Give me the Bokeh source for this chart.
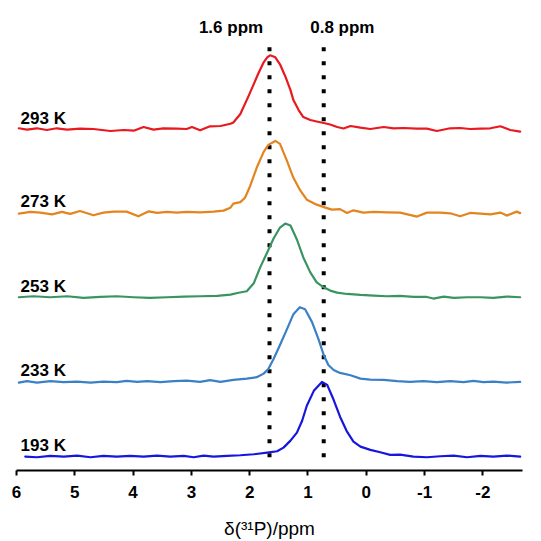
from bokeh.plotting import figure
from bokeh.models import Range1d, FixedTicker, ColumnDataSource
from bokeh.embed import file_html
from bokeh.resources import INLINE
from bokeh.core.properties import value

FONT = "Liberation Sans"

# ---- data (chemical shift in ppm, intensity in arbitrary units) ----
temps = ["293 K", "273 K", "253 K", "233 K", "193 K"]
colors = ["#e8191f", "#e3841f", "#3a9462", "#3a80c6", "#1616de"]
offsets = [329, 245, 160, 75, 0]

x293 = [5.96, 5.82, 5.65, 5.48, 5.31, 5.13, 4.91, 4.68, 4.39, 4.16, 3.99, 3.82, 3.65, 3.48, 3.25,
        3.08, 2.99, 2.85, 2.68, 2.50, 2.33, 2.28, 2.16, 2.02, 1.93, 1.85, 1.76, 1.70, 1.65, 1.56,
        1.48, 1.39, 1.30, 1.25, 1.16, 1.08, 0.96, 0.85, 0.73, 0.62, 0.50, 0.39, 0.27, 0.10, -0.07,
        -0.30, -0.47, -0.64, -0.87, -1.04, -1.21, -1.44, -1.61, -1.78, -1.96, -2.13, -2.30, -2.47, -2.64]
y293 = [0.7, -0.7, 0.7, -1.0, 0.7, -0.7, 0.3, 0, -2.0, -1.0, -1.7, 2.0, -0.7, 0.7, 0.3,
        0, 2.0, -1.3, 2.7, 3.0, 5.3, 6.5, 15, 33, 45, 56, 67, 72, 74, 72,
        65, 53, 39, 29, 19, 12, 9, 7.5, 6, 4.5, 2, 0.5, 3, 1.3, 0,
        2, 0.7, 1, 0.3, 0.3, -2, 0.7, 1, 0, 0.3, 0.7, 2.7, -1, -2.7]

x273 = [5.96, 5.76, 5.59, 5.39, 5.22, 5.08, 4.91, 4.68, 4.51, 4.33, 4.11, 3.91, 3.73, 3.59, 3.42,
        3.25, 3.08, 2.85, 2.62, 2.45, 2.33, 2.28, 2.16, 2.08, 1.99, 1.88, 1.76, 1.68, 1.56, 1.48,
        1.36, 1.25, 1.13, 1.02, 0.85, 0.70, 0.59, 0.45, 0.33, 0.22, 0.05, -0.13, -0.35, -0.58, -0.87,
        -1.04, -1.27, -1.44, -1.61, -1.78, -1.96, -2.13, -2.30, -2.41, -2.58, -2.64]
y273 = [-1, 0.7, 0, -1.7, 0.7, -1.3, 1.7, -2.7, 0, 1, 1, -3.7, 1.3, -0.3, 0.7,
        0, 0.7, 0.3, 1, 2, 5, 9, 10.5, 15, 27, 45, 61, 68, 72, 69,
        52, 35, 22, 13, 8, 5, 3, 3.5, -0.3, 2.3, 0, 0.7, 0.3, 0, -4,
        0, 0, -0.7, -3.7, -0.3, -1, -1.7, 0, -3, 1, -0.5]

x253 = [5.96, 5.71, 5.42, 5.13, 4.85, 4.56, 4.28, 3.99, 3.71, 3.42, 3.13, 2.85, 2.56, 2.33, 2.19,
        2.05, 1.93, 1.82, 1.70, 1.59, 1.48, 1.39, 1.30, 1.19, 1.08, 0.96, 0.85, 0.73, 0.62, 0.50,
        0.33, 0.10, -0.13, -0.35, -0.58, -0.81, -1.04, -1.15, -1.33, -1.50, -1.73, -1.96, -2.18, -2.41, -2.64]
y253 = [0, 1, 0, 1, -0.7, 0.3, 1, 0, -0.7, 0, 0.7, 1, 1.3, 2.7, 4.5,
        6, 14, 30, 45, 59, 70, 74, 72, 58, 40, 25, 15, 10, 6.7, 4.7,
        3.3, 2.3, 1.7, 1, 1.3, 0.3, 0.3, -1.3, 0.7, -0.7, 0, 0, -0.7, 0.7, 0]

x233 = [5.96, 5.82, 5.65, 5.42, 5.19, 4.96, 4.73, 4.51, 4.28, 4.11, 3.93, 3.76, 3.53, 3.30, 3.08,
        2.85, 2.68, 2.50, 2.28, 2.05, 1.88, 1.76, 1.68, 1.59, 1.48, 1.36, 1.25, 1.14, 1.05, 0.93,
        0.82, 0.73, 0.65, 0.56, 0.45, 0.27, 0.10, -0.07, -0.30, -0.53, -0.75, -0.98, -1.21, -1.44, -1.67,
        -1.84, -2.01, -2.18, -2.41, -2.64]
y233 = [-0.7, 0.7, -0.7, 0.7, -0.3, 0.3, -0.7, 0.3, -0.3, 1, 0, 0.7, -0.3, 0.7, 1.3,
        0, 1.7, 0, 2, 3.3, 4.7, 8.3, 13, 23, 37, 53, 68, 75, 73, 60,
        43, 27, 17, 12, 9, 6.7, 3.3, 2.3, 2, 0.7, 0, 0.7, -0.3, 0.7, -0.3,
        1, -0.3, 0.3, -0.7, 0]

x193 = [5.85, 5.65, 5.42, 5.19, 4.96, 4.73, 4.51, 4.28, 4.05, 3.82, 3.59, 3.36, 3.13, 2.96, 2.79,
        2.62, 2.39, 2.16, 1.93, 1.70, 1.53, 1.42, 1.30, 1.19, 1.10, 1.02, 0.90, 0.76, 0.67, 0.56,
        0.45, 0.33, 0.22, 0.10, -0.07, -0.24, -0.41, -0.58, -0.81, -1.04, -1.27, -1.50, -1.73, -1.96, -2.18,
        -2.41, -2.64]
y193 = [0, -0.7, 0.7, 0, 1, -0.7, 0.7, 0, 0.7, 0, 1, 0, 0.7, -0.7, 1,
        0, 0.7, 1.3, 2.3, 4, 5.3, 9, 16, 24, 36, 51, 66, 75, 72, 57,
        40, 25, 15, 10, 6.7, 4.3, 1.7, 2, 0, -0.7, 0.3, 1, -0.7, 0.7, 0,
        1, 0]

xs_all = [x293, x273, x253, x233, x193]
ys_all = [y293, y273, y253, y233, y193]

marker_ppm = [1.66, 0.73]
marker_labels = ["1.6 ppm", "0.8 ppm"]
marker_label_x = [2.32, 0.41]

x_ticks = [6, 5, 4, 3, 2, 1, 0, -1, -2]

# ---- figure ----
p = figure(width=541, height=541, output_backend="svg", toolbar_location=None,
           x_range=Range1d(6, -2.68), y_range=Range1d(-14, 448),
           y_axis_location=None,
           min_border_left=16, min_border_right=19, min_border_top=10, min_border_bottom=69)
p.xgrid.visible = False
p.ygrid.visible = False
p.outline_line_color = None
p.background_fill_color = "white"
p.border_fill_color = "white"

# dotted marker lines
p.segment(x0=marker_ppm, x1=marker_ppm, y0=[411] * 2, y1=[-9] * 2,
          line_color="black", line_width=4, line_dash="4 10", line_cap="butt")

for xs, ys, off, col in zip(xs_all, ys_all, offsets, colors):
    p.line([x for x in xs], [y + off for y in ys], line_color=col, line_width=2.2,
           line_join="round", line_cap="round")

lab_src = ColumnDataSource(dict(x=[5.93] * len(temps), y=[o + 11 for o in offsets], t=temps))
p.text(x="x", y="y", text="t", source=lab_src, text_font=value(FONT),
       text_font_style="bold", text_font_size="17px", text_align="left",
       text_baseline="alphabetic", text_color="black")

mk_src = ColumnDataSource(dict(x=marker_label_x, y=[431] * 2, t=marker_labels))
p.text(x="x", y="y", text="t", source=mk_src, text_font=value(FONT),
       text_font_style="bold", text_font_size="17px", text_align="center",
       text_baseline="alphabetic", text_color="black")

ax = p.xaxis[0]
ax.ticker = FixedTicker(ticks=x_ticks, minor_ticks=[])
ax.major_label_overrides = {t: (str(t) if t >= 0 else "-" + str(-t)) for t in x_ticks}
ax.axis_line_width = 2
ax.axis_line_color = "black"
ax.major_tick_line_width = 2
ax.major_tick_line_color = "black"
ax.major_tick_out = 5
ax.major_tick_in = 0
ax.minor_tick_line_color = None
ax.major_label_text_font = FONT
ax.major_label_text_font_style = "bold"
ax.major_label_text_font_size = "17px"
ax.major_label_text_color = "black"
ax.major_label_standoff = 10
ax.axis_label = "δ(³¹P)/ppm"
ax.axis_label_text_font = FONT
ax.axis_label_text_font_style = "normal"
ax.axis_label_text_font_size = "19px"
ax.axis_label_text_color = "black"
ax.axis_label_standoff = 17

open("out.html", "w").write(file_html(p, INLINE))
